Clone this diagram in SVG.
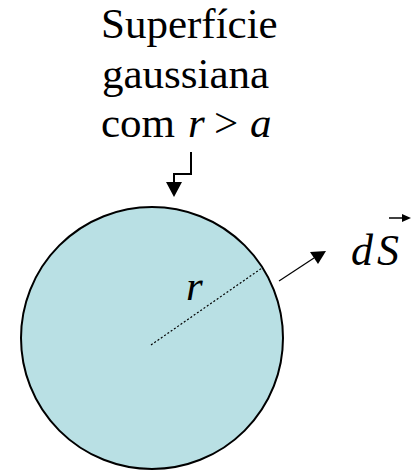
<svg xmlns="http://www.w3.org/2000/svg" width="415" height="472" viewBox="0 0 415 472">
<style>
.i{font-style:italic}
</style>
<rect width="415" height="472" fill="#fff"/>
<g id="sphere">
<circle cx="152" cy="338" r="131" fill="#B9E0E4" stroke="#000" stroke-width="2"/>
</g>
<g font-family="Liberation Serif, Times New Roman, serif" font-size="43" fill="#000">
<g id="label">
<text x="101" y="38">Superfície</text>
<text x="102" y="88">gaussiana</text>
<text x="101" y="137">com <tspan class="i" x="188">r</tspan> <tspan x="214">&gt;</tspan> <tspan class="i" x="250">a</tspan></text>
</g>
<g id="r-label"><text class="i" x="186" y="300">r</text></g>
<g id="dS-label">
<text class="i" y="265" font-size="44"><tspan x="351">d</tspan><tspan x="377">S</tspan></text>
<path d="M389,218 H406" stroke="#000" stroke-width="1.5"/>
<path d="M402,214 L411,218 L402,222 z" fill="#000"/>
</g>
</g>
<g id="connectors">
<path d="M191,152 V174 H174 V183" fill="none" stroke="#000" stroke-width="2"/>
<path d="M166,182 L182,182 L174,197 z" fill="#000"/>
<path d="M151,345 L262,268" stroke="#000" stroke-width="1.2" stroke-dasharray="2,2"/>
<path d="M279,281 L314,258" stroke="#000" stroke-width="1.2"/>
<path d="M310,252 L326,251 L318,264 z" fill="#000"/>
</g>
</svg>
